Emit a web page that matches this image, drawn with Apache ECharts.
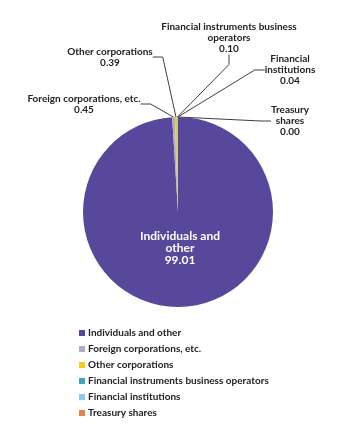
<!DOCTYPE html>
<html><head><meta charset="utf-8">
<script src="https://cdn.jsdelivr.net/npm/echarts@6/dist/echarts.min.js"></script>
<style>html,body{margin:0;padding:0;background:#fff}#c{width:345px;height:424px}</style>
</head><body><div id="c"></div>
<script>
var categories = ["Individuals and other","Foreign corporations, etc.","Other corporations","Financial instruments business operators","Financial institutions","Treasury shares"];
var values = [99.01, 0.45, 0.39, 0.10, 0.04, 0.00];
var labelTexts = ["Individuals and\nother","Foreign corporations, etc.","Other corporations","Financial instruments business\noperators","Financial\ninstitutions","Treasury\nshares"];
var colors = ["#58489c","#b4a8d0","#f5cd1c","#46a0bf","#8fc8ee","#e0874a"];

// label anchor positions (center x, center y)
var labelPos = [[180,248],[84,104],[110,57],[229,38],[290,70],[290,121]];

var chart = echarts.init(document.getElementById('c'));
var data = categories.map(function(n,i){
  var d = {name:n, value:values[i], itemStyle:{color:colors[i]}};
  if(i===0){
    d.label = {position:'inside', color:'#fff', fontSize:12, fontWeight:'bold', lineHeight:12};
    d.labelLine = {show:false};
  }
  return d;
});
chart.setOption({
  backgroundColor:'#fff',
  animation:false,
  legend:{
    orient:'vertical', left:79, top:327, padding:0, itemWidth:6, itemHeight:6, itemGap:4,
    icon:'rect',
    textStyle:{fontFamily:'Lato', fontWeight:'bold', fontSize:10, color:'#222', lineHeight:12, padding:[0,0,0,-2]},
    data:categories
  },
  series:[{
    type:'pie', center:[178,212], radius:95, startAngle:90, clockwise:true,
    minShowLabelAngle:0, avoidLabelOverlap:false,
    label:{show:true, position:'outside', fontFamily:'Lato', fontWeight:'bold', fontSize:10, lineHeight:11,
      color:'#222', align:'center',
      formatter:function(p){return labelTexts[p.dataIndex]+'\n'+p.value.toFixed(2);}},
    labelLine:{show:true, length:10, length2:10, lineStyle:{color:'#404040', width:1}},
    labelLayout:function(p){
      var pos = labelPos[p.dataIndex];
      return {x:pos[0], y:pos[1], align:'center', verticalAlign:'middle'};
    },
    itemStyle:{borderWidth:0},
    data:data
  }]
});
</script></body></html>
